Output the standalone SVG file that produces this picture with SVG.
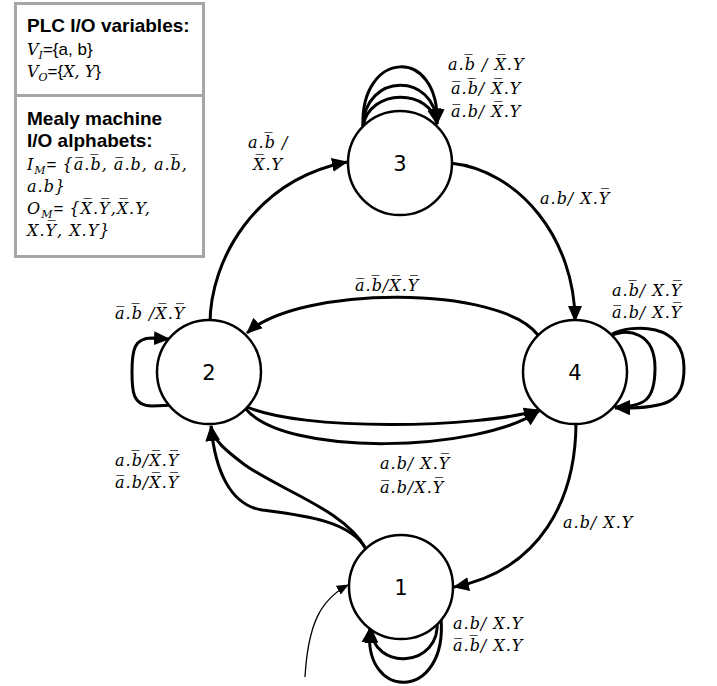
<svg xmlns="http://www.w3.org/2000/svg" width="717" height="686" viewBox="0 0 717 686">
<style>
.node{fill:#fff;stroke:#000;stroke-width:2.5}
.nl{font-family:"DejaVu Sans",sans-serif;font-size:21px;text-anchor:middle}
.e{fill:none;stroke:#000;stroke-width:3}
.thin{fill:none;stroke:#000;stroke-width:1.3}
.m{font-family:"DejaVu Serif",serif;font-style:italic;font-size:16px;letter-spacing:1px}
.lg{font-family:"Liberation Sans",Arial,sans-serif;font-size:17px;font-style:normal;letter-spacing:0}
.b{font-weight:bold;font-size:19px}
.box{fill:#fff;stroke:#a6a6a6;stroke-width:3}
.sub{font-size:11px}
</style>
<defs>
<marker id="ah" viewBox="0 0 16 14" refX="15" refY="7" markerWidth="16" markerHeight="14" markerUnits="userSpaceOnUse" orient="auto"><path d="M0,0 L16,7 L0,14 z" fill="#000"/></marker>
<marker id="ahs" viewBox="0 0 12 10" refX="11" refY="5" markerWidth="12" markerHeight="10" markerUnits="userSpaceOnUse" orient="auto"><path d="M0,0 L12,5 L0,10 z" fill="#000"/></marker>
</defs>

<g id="legend">
<rect class="box" x="15.5" y="3.5" width="188" height="92"/>
<rect class="box" x="15.5" y="95.5" width="188" height="161"/>
<text class="lg b" x="27" y="32">PLC I/O variables:</text>
<text class="m" x="27" y="55" style="letter-spacing:0">V<tspan class="sub" dy="4">I</tspan><tspan class="lg" dy="-4">={a, b}</tspan></text>
<text class="m" x="27" y="77" style="letter-spacing:0">V<tspan class="sub" dy="4">O</tspan><tspan class="lg" dy="-4">={</tspan>X, Y<tspan class="lg">}</tspan></text>
<text class="lg b" x="27" y="125">Mealy machine</text>
<text class="lg b" x="27" y="147">I/O alphabets:</text>
<text class="m" x="27" y="170">I<tspan class="sub" dy="4">M</tspan><tspan class="lg" dy="-4">=</tspan> {a&#x305;.b&#x305;, a&#x305;.b, a.b&#x305;,</text>
<text class="m" x="27" y="192">a.b}</text>
<text class="m" x="27" y="214">O<tspan class="sub" dy="4">M</tspan><tspan class="lg" dy="-4">=</tspan> {X&#x305;.Y&#x305;,X&#x305;.Y,</text>
<text class="m" x="27" y="236">X.Y&#x305;, X.Y}</text>
</g>

<g id="connectors">
<path class="e" d="M210,324 C210,260 255,180 347,162" marker-end="url(#ah)"/>
<path class="e" d="M450,163 C520,170 575,240 575,321" marker-end="url(#ah)"/>
<path class="e" d="M538,335 C500,285 300,285 247,333" marker-end="url(#ah)"/>
<path class="e" d="M245,406 C300,432 480,428 539,410" marker-end="url(#ah)"/>
<path class="e" d="M245,408 C285,458 480,452 539,411" marker-end="url(#ah)"/>
<path class="e" d="M576,422 C576,500 540,570 454,587" marker-end="url(#ah)"/>
<path class="e" d="M366,549 C345,510 280,490 245,465 C225,450 213,440 211,426" marker-end="url(#ah)"/>
<path class="e" d="M366,549 C350,520 300,515 262,510 C230,505 215,470 211,426" marker-end="url(#ah)"/>
<path class="thin" d="M305,677 C308,625 320,600 348,585" marker-end="url(#ahs)"/>
<path class="e" d="M437,620 C442,668 372,672 371,628" marker-end="url(#ah)"/>
<path class="e" d="M441,618 C448,702 362,702 370,628" marker-end="url(#ah)"/>
<path class="e" d="M176,405 L152,406 C132,406 132,390 132,372 C132,350 134,338 152,338 L169,339" marker-end="url(#ah)"/>
<path class="e" d="M610,336 C628,328 655,332 655,368 C655,400 645,407 615,407" marker-end="url(#ah)"/>
<path class="e" d="M612,334 C632,324 684,322 684,368 C684,402 668,409 615,408" marker-end="url(#ah)"/>
<path class="e" d="M363,126 C360,50 440,45 437,124" marker-end="url(#ah)"/>
<path class="e" d="M363,126 C365,72 435,72 437,124" marker-end="url(#ah)"/>
<path class="e" d="M363,126 C370,88 430,88 437,124" marker-end="url(#ah)"/>
</g>

<g id="edge-labels">
<text class="m" x="448" y="70">a.b&#x305; / X&#x305;.Y</text>
<text class="m" x="451" y="94">a&#x305;.b&#x305;/ X&#x305;.Y</text>
<text class="m" x="451" y="117">a&#x305;.b/ X&#x305;.Y</text>
<text class="m" x="248" y="148">a.b&#x305; /</text>
<text class="m" x="253" y="170">X&#x305;.Y</text>
<text class="m" x="540" y="204">a.b/ X.Y&#x305;</text>
<text class="m" x="355" y="291">a&#x305;.b&#x305;/X&#x305;.Y&#x305;</text>
<text class="m" x="115" y="319">a&#x305;.b&#x305; /X&#x305;.Y&#x305;</text>
<text class="m" x="612" y="296">a.b&#x305;/ X.Y&#x305;</text>
<text class="m" x="612" y="318">a&#x305;.b/ X.Y&#x305;</text>
<text class="m" x="115" y="466">a.b&#x305;/X&#x305;.Y&#x305;</text>
<text class="m" x="115" y="488">a&#x305;.b/X&#x305;.Y&#x305;</text>
<text class="m" x="380" y="469">a.b/ X.Y&#x305;</text>
<text class="m" x="380" y="493">a&#x305;.b/X.Y&#x305;</text>
<text class="m" x="563" y="528">a.b/ X.Y</text>
<text class="m" x="453" y="629">a.b/ X.Y</text>
<text class="m" x="453" y="651">a&#x305;.b&#x305;/ X.Y</text>
</g>

<g id="node-3"><circle class="node" cx="400" cy="163" r="52"/><text class="nl" x="400" y="171">3</text></g>
<g id="node-2"><circle class="node" cx="209" cy="372" r="52"/><text class="nl" x="209" y="380">2</text></g>
<g id="node-4"><circle class="node" cx="575" cy="372" r="52"/><text class="nl" x="575" y="380">4</text></g>
<g id="node-1"><circle class="node" cx="401" cy="587" r="52"/><text class="nl" x="401" y="595">1</text></g>
</svg>
